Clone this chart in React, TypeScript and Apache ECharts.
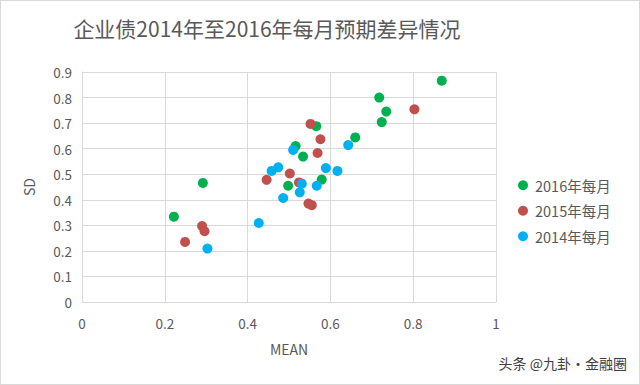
import React, { useEffect, useRef } from "react";
import * as echarts from "echarts";

const titleText = "企业债2014年至2016年每月预期差异情况";
const seriesNames = ["2016年每月", "2015年每月", "2014年每月"];
const seriesColors = ["#00B050", "#C0504D", "#00B0F0"];

const mean2016 = [0.222, 0.292, 0.498, 0.516, 0.534, 0.566, 0.579, 0.660, 0.718, 0.735, 0.724, 0.869];
const sd2016 = [0.334, 0.466, 0.455, 0.610, 0.569, 0.688, 0.479, 0.644, 0.800, 0.745, 0.704, 0.866];

const mean2015 = [0.249, 0.290, 0.296, 0.446, 0.502, 0.524, 0.547, 0.555, 0.552, 0.576, 0.569, 0.803];
const sd2015 = [0.235, 0.297, 0.277, 0.478, 0.503, 0.468, 0.385, 0.379, 0.697, 0.637, 0.583, 0.754];

const mean2014 = [0.303, 0.427, 0.458, 0.474, 0.486, 0.510, 0.531, 0.526, 0.589, 0.617, 0.567, 0.643];
const sd2014 = [0.209, 0.309, 0.513, 0.527, 0.407, 0.595, 0.463, 0.429, 0.524, 0.513, 0.455, 0.614];

const allMeans = [mean2016, mean2015, mean2014];
const allSds = [sd2016, sd2015, sd2014];

const FONT = "'Noto Sans CJK SC', 'Noto Sans', sans-serif";
const TEXT = "#595959";

export default function App() {
  const ref = useRef<HTMLDivElement>(null);
  useEffect(() => {
    document.body.style.margin = "0";
    const chart = echarts.init(ref.current!, null, { renderer: "svg" });
    const series = seriesNames.map((name, i) => ({
      name,
      type: "scatter",
      symbol: "circle",
      symbolSize: 10,
      itemStyle: { color: seriesColors[i], opacity: 1 },
      data: allMeans[i].map((m, j) => [m, allSds[i][j]]),
    }));
    chart.setOption({
      animation: false,
      textStyle: { fontFamily: FONT },
      title: {
        text: titleText,
        left: 261,
        textAlign: "center",
        top: 11,
        textStyle: { fontSize: 21, fontWeight: "normal", color: TEXT, fontFamily: FONT },
      },
      grid: { left: 81, right: 143, top: 71, bottom: 82 },
      xAxis: {
        type: "value",
        min: 0,
        max: 1,
        interval: 0.2,
        name: "MEAN",
        nameLocation: "middle",
        nameGap: 40,
        nameTextStyle: { fontSize: 14, color: TEXT, fontFamily: FONT },
        axisLine: { show: true, lineStyle: { color: "#d9d9d9" } },
        axisTick: { show: false },
        splitLine: { show: true, lineStyle: { color: "#d9d9d9" } },
        axisLabel: {
          fontSize: 13.5,
          color: TEXT,
          margin: 14,
          formatter: (v: number) => String(Math.round(v * 10) / 10),
        },
      },
      yAxis: {
        type: "value",
        min: 0,
        max: 0.9,
        interval: 0.1,
        name: "SD",
        nameLocation: "middle",
        nameGap: 46,
        nameRotate: 90,
        nameTextStyle: { fontSize: 14, color: TEXT, fontFamily: FONT },
        axisLine: { show: true, lineStyle: { color: "#d9d9d9" } },
        axisTick: { show: false },
        splitLine: { show: true, lineStyle: { color: "#d9d9d9" } },
        axisLabel: {
          fontSize: 13.5,
          color: TEXT,
          margin: 10,
          formatter: (v: number) => String(Math.round(v * 10) / 10),
        },
      },
      legend: {
        orient: "vertical",
        left: 512,
        top: 172,
        itemGap: 11,
        itemWidth: 10,
        itemHeight: 10,
        icon: "circle",
        textStyle: { fontSize: 14.5, color: TEXT, fontFamily: FONT, padding: [0, 0, 0, 2] },
        data: seriesNames,
      },
      graphic: [
        {
          type: "text",
          right: 12,
          top: 355,
          style: { text: "头条 @九卦·金融圈", fontSize: 14, fill: "#404040", fontFamily: FONT },
        },
      ],
      series,
    });
    return () => chart.dispose();
  }, []);
  return (
    <div
      style={{
        position: "absolute",
        left: 0,
        top: 0,
        width: 640,
        height: 385,
        boxSizing: "border-box",
        border: "1px solid #d9d9d9",
        background: "#fff",
      }}
    >
      <div ref={ref} style={{ width: 638, height: 383 }} />
    </div>
  );
}
